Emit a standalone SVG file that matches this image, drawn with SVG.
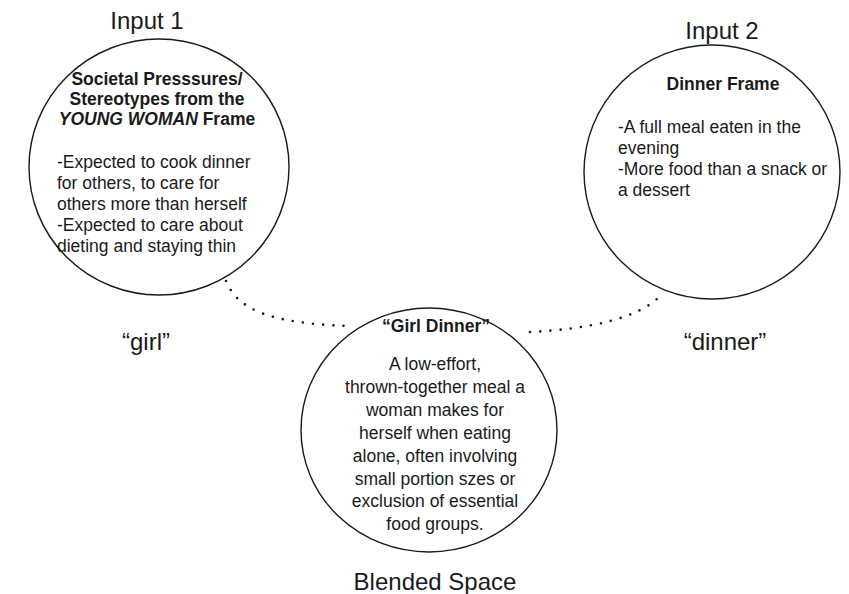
<svg xmlns="http://www.w3.org/2000/svg" width="849" height="594" viewBox="0 0 849 594">
<style>
  text { font-family: "Liberation Sans", Arial, sans-serif; fill: #1a1a1a; }
  .circ { fill: none; stroke: #1a1a1a; stroke-width: 1.4; }
  .lbl { font-size: 24px; }
  .title { font-size: 17.5px; font-weight: bold; text-anchor: middle; }
  .body { font-size: 17.5px; }
  .mid { text-anchor: middle; }
  .dots { fill: none; stroke: #1a1a1a; stroke-width: 2.6; stroke-linecap: round; stroke-dasharray: 0 10.2; }
</style>
<rect width="849" height="594" fill="#ffffff"/>
<g id="connectors">
  <path class="dots" d="M226,281 C238,310 270,323 347,326"/>
  <path class="dots" d="M530,332 C590,329 640,318 661,295"/>
</g>
<g id="input1">
  <ellipse class="circ" cx="159" cy="167" rx="130" ry="128"/>
  <text class="lbl" x="147" y="29" text-anchor="middle" font-size="23">Input 1</text>
  <text class="title" x="157" y="85">Societal Presssures/</text>
  <text class="title" x="157" y="105">Stereotypes from the</text>
  <text class="title" x="157" y="125"><tspan font-style="italic">YOUNG WOMAN</tspan> Frame</text>
  <text class="body" x="57" y="168">-Expected to cook dinner</text>
  <text class="body" x="57" y="189">for others, to care for</text>
  <text class="body" x="57" y="210">others more than herself</text>
  <text class="body" x="57" y="231">-Expected to care about</text>
  <text class="body" x="57" y="252">dieting and staying thin</text>
  <text class="lbl" x="146" y="350" text-anchor="middle">“girl”</text>
</g>
<g id="input2">
  <ellipse class="circ" cx="712" cy="172" rx="128" ry="127"/>
  <text class="lbl" x="722" y="39" text-anchor="middle" font-size="23">Input 2</text>
  <text class="title" x="723" y="90">Dinner Frame</text>
  <text class="body" x="618" y="133">-A full meal eaten in the</text>
  <text class="body" x="618" y="154">evening</text>
  <text class="body" x="618" y="175">-More food than a snack or</text>
  <text class="body" x="618" y="196">a dessert</text>
  <text class="lbl" x="725" y="350" text-anchor="middle">“dinner”</text>
</g>
<g id="blended">
  <ellipse class="circ" cx="429" cy="430" rx="128" ry="122"/>
  <text class="title" x="436" y="332">“Girl Dinner”</text>
  <text class="body mid" x="435" y="370">A low-effort,</text>
  <text class="body mid" x="435" y="393">thrown-together meal a</text>
  <text class="body mid" x="435" y="416">woman makes for</text>
  <text class="body mid" x="435" y="439">herself when eating</text>
  <text class="body mid" x="435" y="462">alone, often involving</text>
  <text class="body mid" x="435" y="485">small portion szes or</text>
  <text class="body mid" x="435" y="507">exclusion of essential</text>
  <text class="body mid" x="435" y="530">food groups.</text>
  <text class="lbl" x="435" y="590" text-anchor="middle">Blended Space</text>
</g>
</svg>
